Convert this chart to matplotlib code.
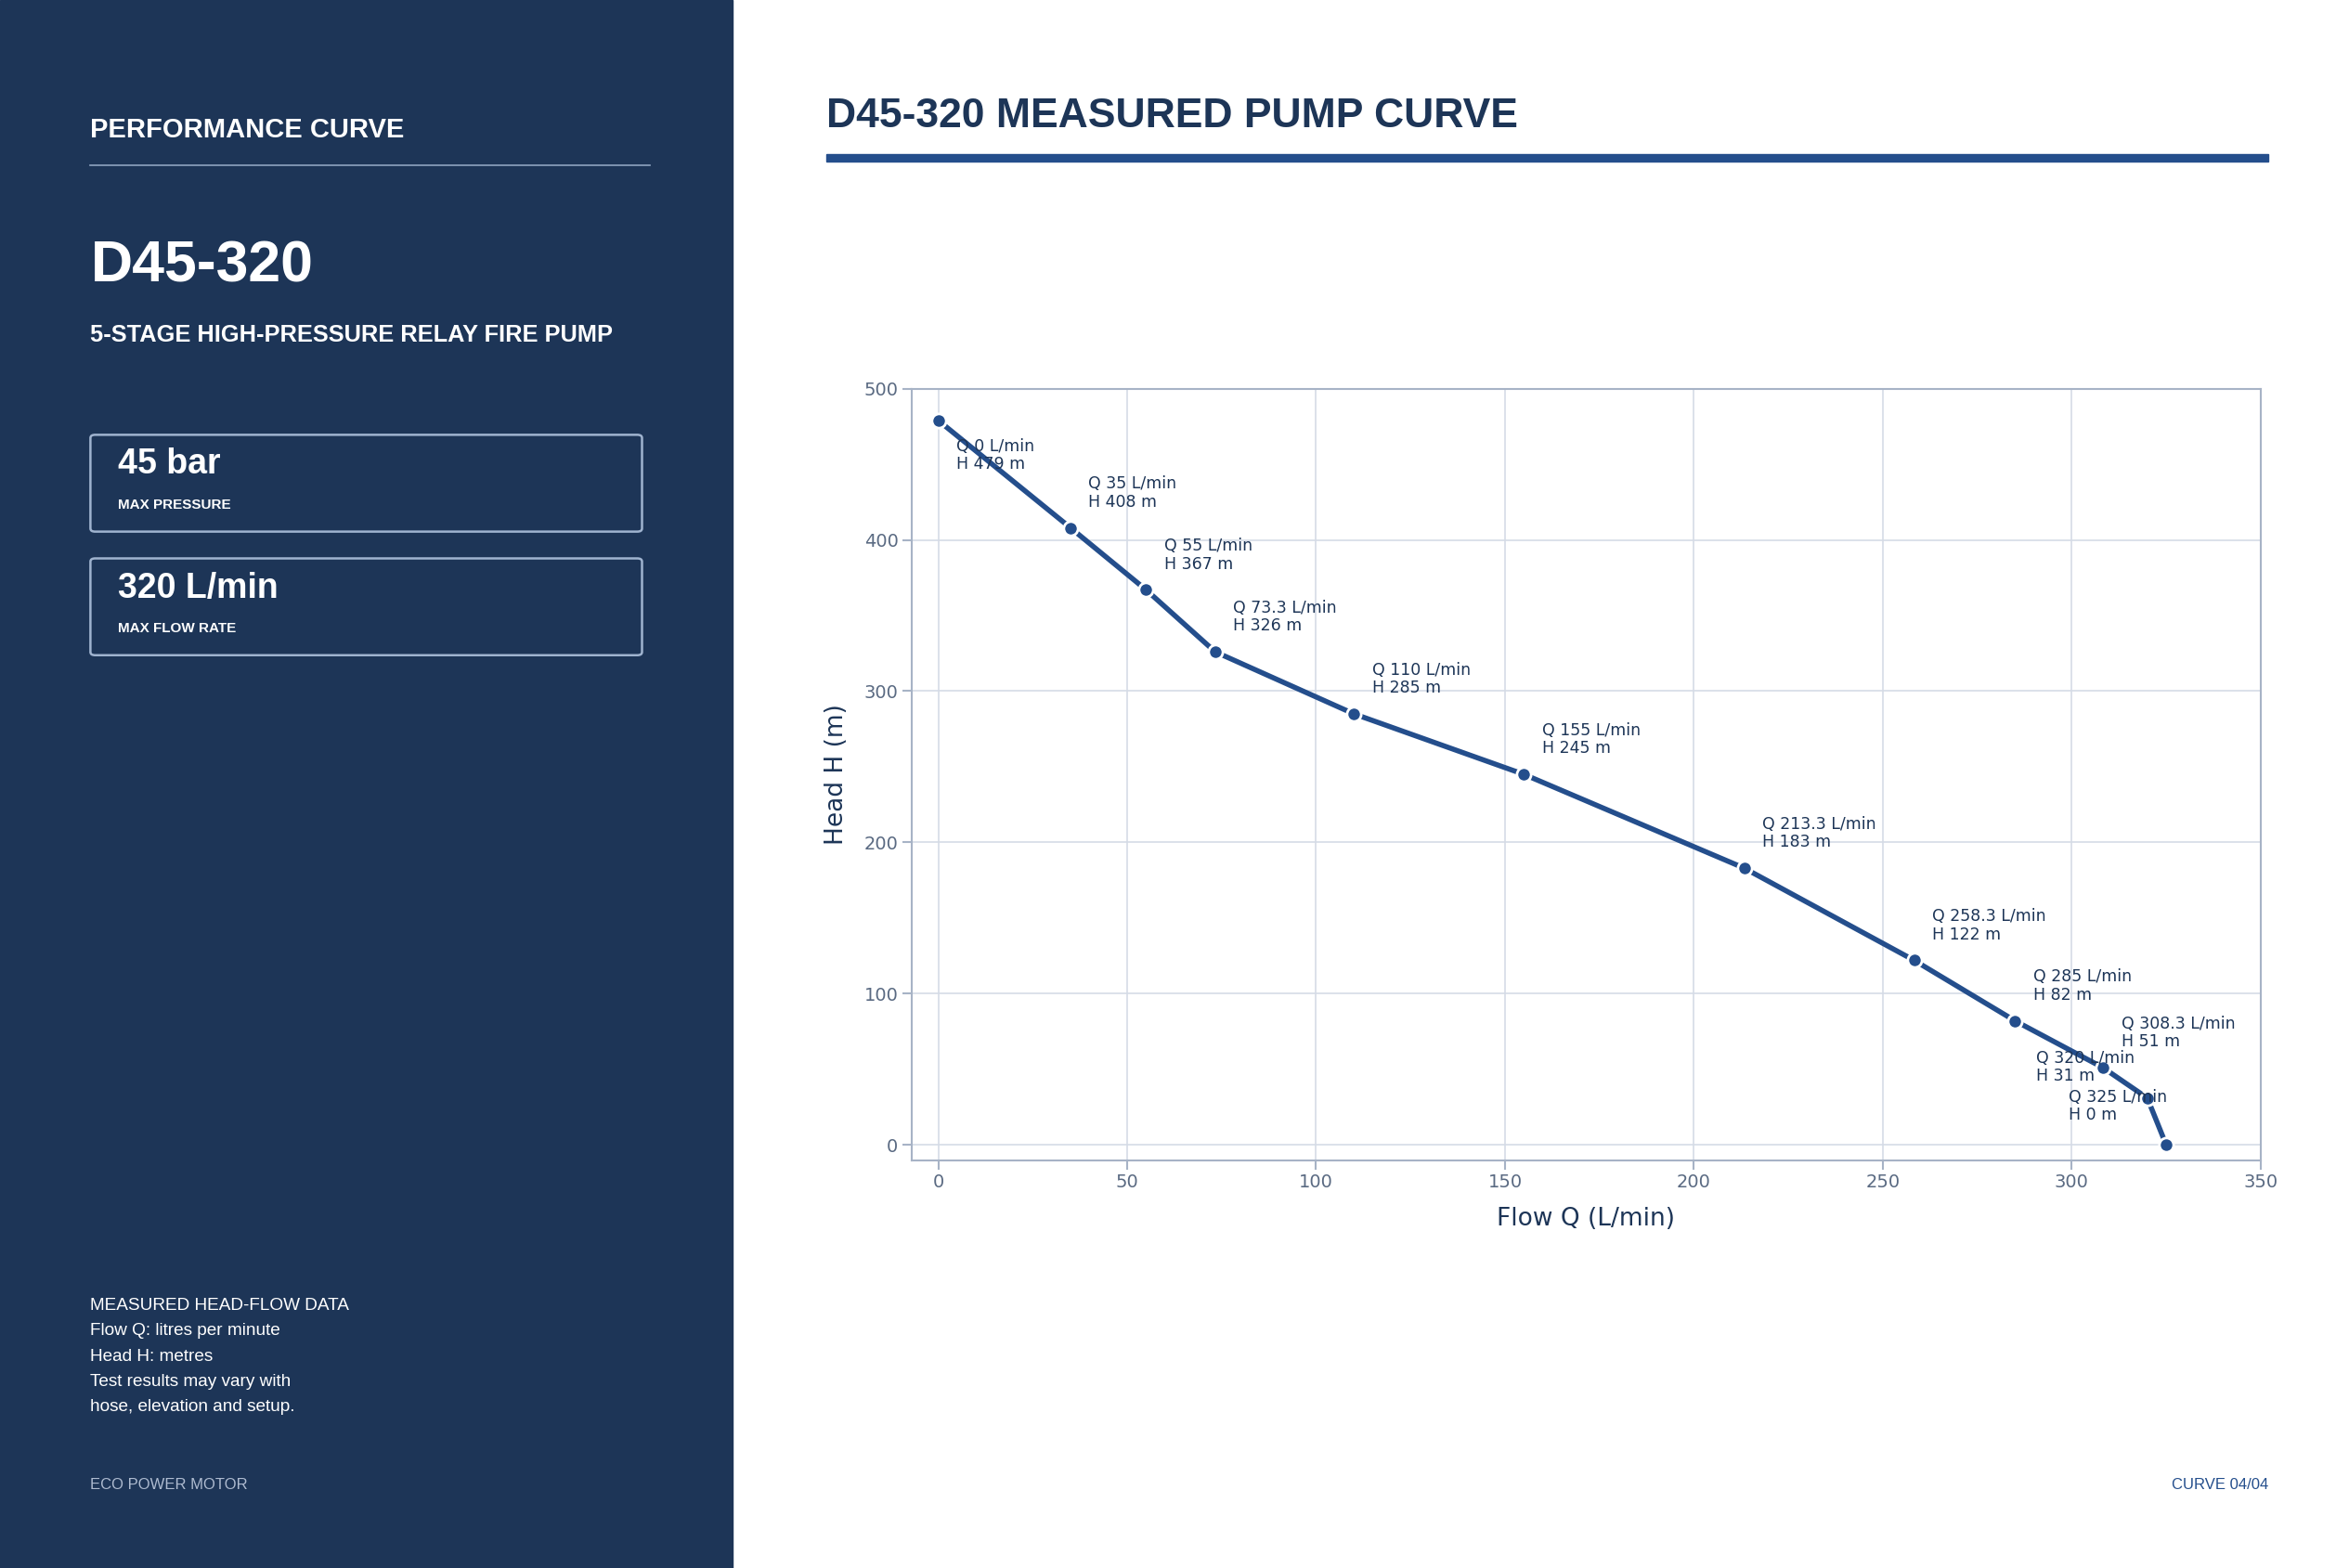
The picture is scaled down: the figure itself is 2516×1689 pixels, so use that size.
import matplotlib
matplotlib.use("Agg")
import matplotlib.pyplot as plt
from matplotlib.patches import Rectangle, FancyBboxPatch

flow = [0, 35, 55, 73.3, 110, 155, 213.3, 258.3, 285, 308.3, 320, 325]
head = [479, 408, 367, 326, 285, 245, 183, 122, 82, 51, 31, 0]
labels_q = ["0", "35", "55", "73.3", "110", "155", "213.3", "258.3", "285", "308.3", "320", "325"]
xticks = [0, 50, 100, 150, 200, 250, 300, 350]
yticks = [0, 100, 200, 300, 400, 500]

NAVY = "#1d3557"
BLUE = "#244e8c"
W, H = 1550, 1053
fig = plt.figure(figsize=(25.16, 16.89), dpi=100)
fig.patch.set_facecolor("white")

def fx(x): return x / W
def fy(y): return 1 - y / H
SANS = "Liberation Sans"

fig.patches.append(Rectangle((0, 0), fx(486), 1, transform=fig.transFigure, color=NAVY, zorder=0))
fig.text(fx(60), fy(87), "PERFORMANCE CURVE", color="white", fontsize=21, fontweight="bold", family=SANS, va="center")
fig.lines.append(plt.Line2D([fx(60), fx(431)], [fy(111), fy(111)], transform=fig.transFigure, color="#8ea3c0", lw=1.2))
fig.text(fx(60), fy(179), "D45-320", color="white", fontsize=45, fontweight="bold", family=SANS, va="center")
fig.text(fx(60), fy(225), "5-STAGE HIGH-PRESSURE RELAY FIRE PUMP", color="white", fontsize=18.3, fontweight="bold", family=SANS, va="center")
for top, big, small in [(292, "45 bar", "MAX PRESSURE"), (375, "320 L/min", "MAX FLOW RATE")]:
    fig.patches.append(FancyBboxPatch((fx(60), fy(top + 65)), fx(366), 65 / H, boxstyle="round,pad=0,rounding_size=0.002",
                                      transform=fig.transFigure, facecolor="none", edgecolor="#9fb3cf", lw=1.8))
    fig.text(fx(78), fy(top + 20), big, color="white", fontsize=27, fontweight="bold", family=SANS, va="center")
    fig.text(fx(78), fy(top + 47), small, color="white", fontsize=11, fontweight="bold", family=SANS, va="center")
notes = ["MEASURED HEAD-FLOW DATA", "Flow Q: litres per minute", "Head H: metres", "Test results may vary with", "hose, elevation and setup."]
for i, t in enumerate(notes):
    fig.text(fx(60), fy(877 + i * 17), t, color="white", fontsize=13.7, family=SANS, va="center")
fig.text(fx(60), fy(997), "ECO POWER MOTOR", color="#aebbd0", fontsize=12, family=SANS, va="center")

fig.text(fx(548), fy(78), "D45-320 MEASURED PUMP CURVE", color=NAVY, fontsize=32, fontweight="bold", family=SANS, va="center")
fig.patches.append(Rectangle((fx(548), fy(108.5)), fx(1505 - 548), 5 / H, transform=fig.transFigure, color=BLUE))
fig.text(fx(1505), fy(997), "CURVE 04/04", color=BLUE, fontsize=12, family=SANS, va="center", ha="right")

ax = fig.add_axes([fx(605), fy(779), fx(1500 - 605), (779 - 261) / H])
ax.plot(flow, head, color=BLUE, lw=4, marker="o", ms=11, markerfacecolor=BLUE, markeredgecolor="white", markeredgewidth=2, zorder=3)
offsets = [(14, -27)] + [(14, 27)] * 9 + [(-86, 24), (-76, 30)]
for q, h, lq, (dx, dy) in zip(flow, head, labels_q, offsets):
    ax.annotate(f"Q {lq} L/min\nH {h} m", (q, h), xytext=(dx, dy), textcoords="offset points",
                fontsize=12.5, color=NAVY, va="center", ha="left", linespacing=1.1, zorder=4)
ax.set_xlim(-7, 350)
ax.set_ylim(-10, 500)
ax.set_xticks(xticks)
ax.set_yticks(yticks)
ax.grid(True, color="#d5dbe6", lw=1.2)
ax.set_axisbelow(True)
for s in ax.spines.values():
    s.set_color("#a7b3c6")
    s.set_linewidth(1.5)
ax.tick_params(colors="#a7b3c6", labelcolor="#5a6a82", labelsize=14, length=7, width=1.5)
ax.set_xlabel("Flow Q (L/min)", fontsize=19, color=NAVY, labelpad=12)
ax.set_ylabel("Head H (m)", fontsize=19, color=NAVY, labelpad=12)

fig.savefig("out.png", dpi=100, facecolor="white")
